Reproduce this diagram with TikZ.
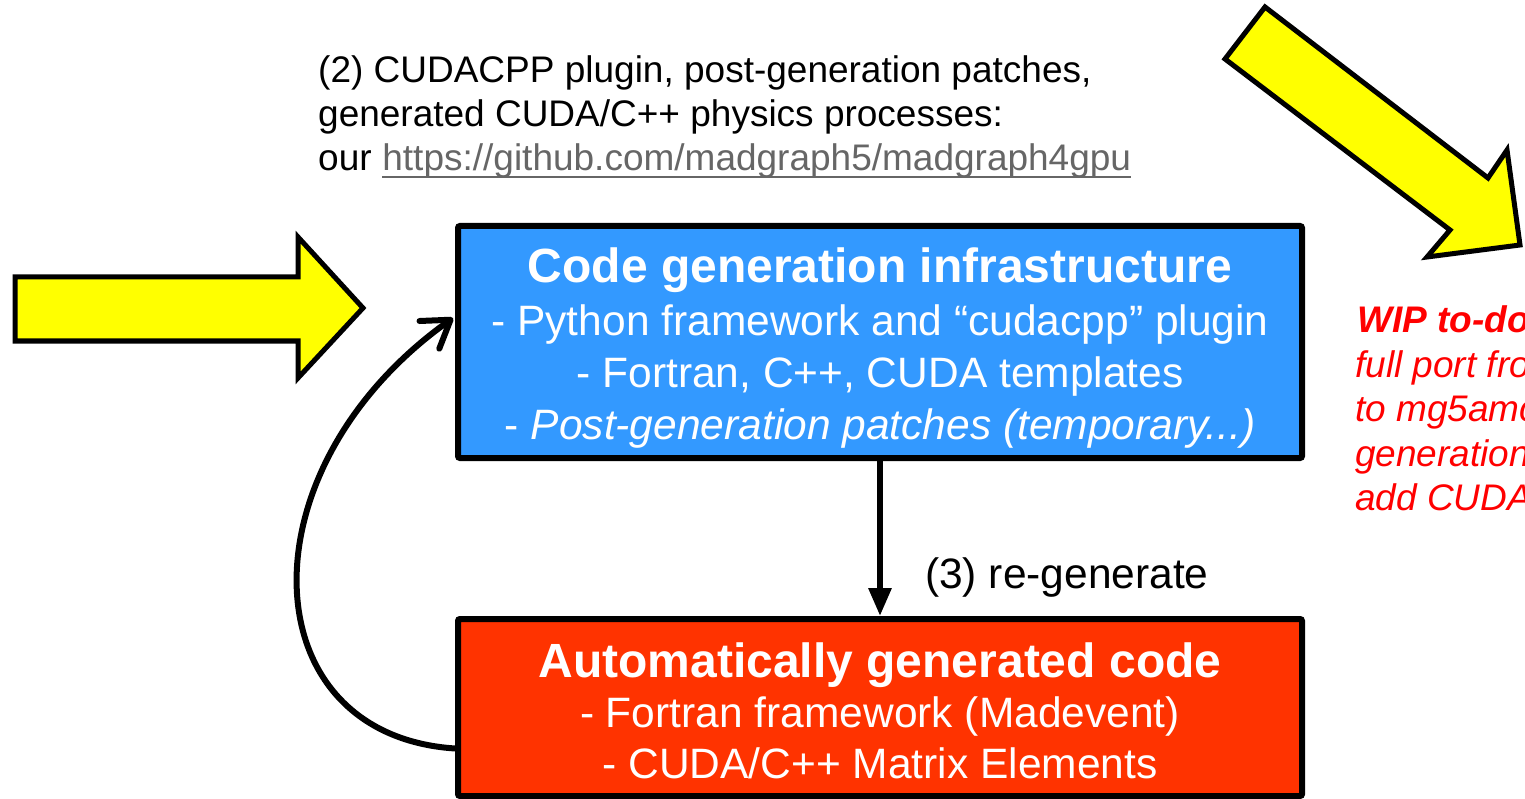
\documentclass[tikz,border=0pt]{standalone}
\usepackage{fontspec}
\setmainfont{Liberation Sans}
\usetikzlibrary{arrows.meta,calc}
\definecolor{boxblue}{RGB}{51,153,255}
\definecolor{boxred}{RGB}{255,51,0}
\definecolor{arrowyellow}{RGB}{255,255,0}
\definecolor{linkgrey}{RGB}{102,102,102}
\definecolor{wipred}{RGB}{255,0,0}
\begin{document}
\begin{tikzpicture}[x=1pt,y=-1pt,
  box/.style={draw=black,line width=6pt,rectangle,minimum width=844pt,inner sep=0pt,rounded corners=2pt},
  bodytxt/.style={text=white,font=\fontsize{42.5}{50}\selectfont,inner sep=0pt,anchor=base},
  titletxt/.style={text=white,font=\fontsize{48}{56}\selectfont\bfseries,inner sep=0pt,anchor=base},
  notetxt/.style={font=\fontsize{37}{44}\selectfont,inner sep=0pt,anchor=base west},
  wiptxt/.style={text=wipred,font=\fontsize{37}{44}\selectfont\itshape,inner sep=0pt,anchor=base west},
  wipbold/.style={text=wipred,font=\fontsize{37}{44}\selectfont\bfseries\itshape,inner sep=0pt,anchor=base west},
  fatarrow/.style={draw=black,fill=arrowyellow,line width=5pt,line join=miter},
  flow/.style={draw=black,line width=6pt}]
\useasboundingbox (0,0) rectangle (1525,799);
\clip (0,0) rectangle (1525,799);

% yellow block arrows
\path[fatarrow] (15,277) -- (298,277) -- (298,237) -- (363,308) -- (298,378) -- (298,341) -- (15,341) -- cycle;
\path[fatarrow] (1265,7) -- (1488,178) -- (1507,150) -- (1520,245) -- (1427,257) -- (1450,230) -- (1225,59) -- cycle;

% boxes
\node[box,fill=boxblue,minimum height=232pt] (blue) at (880,342) {};
\node[box,fill=boxred,minimum height=177pt] (red) at (880,707.5) {};

% blue box text
\node[titletxt] (bt) at (880,283) {Code generation infrastructure};
\node[bodytxt] (b1) at (880,335) {- Python framework and “cudacpp” plugin};
\node[bodytxt] (b2) at (880,387) {- Fortran, C++, CUDA templates};
\node[bodytxt] (b3) at (880,439) {- \textit{Post-generation patches (temporary...)}};

% red box text
\node[titletxt] (rt) at (880,677) {Automatically generated code};
\node[bodytxt] (r1) at (880,727) {- Fortran framework (Madevent)};
\node[bodytxt] (r2) at (880,778) {- CUDA/C++ Matrix Elements};

% connectors
\draw[flow,-{Triangle[length=28pt,width=22pt]}] (blue.south) -- (red.north);
\node[notetxt,font=\fontsize{42.5}{50}\selectfont] (regen) at (925,588) {(3) re-generate};
\draw[flow,line cap=round,-{Straight Barb[length=26pt,width=34pt,line cap=round,line join=round]}]
  ($(red.west)+(0,41)$) .. controls (250,735) and (240,470) .. ($(blue.west)+(-2,-24)$);

% top note
\node[notetxt] (n1) at (318,83) {(2) CUDACPP plugin, post-generation patches,};
\node[notetxt] (n2) at (318,127) {generated CUDA/C++ physics processes:};
\node[notetxt] (n3) at (318,171) {our};
\node[notetxt,text=linkgrey] (link) at ($(n3.base east)+(10.3,0)$) {https://github.com/madgraph5/madgraph4gpu};
\draw[linkgrey,line width=2pt] ($(link.base west)+(0,6)$) -- ($(link.base east)+(0,6)$);

% WIP note (cut off at right edge)
\node[wipbold] (w0) at (1357,333) {WIP to-do};
\node[wiptxt] (w1) at (1355,377) {full port fro};
\node[wiptxt] (w2) at (1355,421) {to mg5amc};
\node[wiptxt] (w3) at (1355,466) {generation};
\node[wiptxt] (w4) at (1355,510) {add CUDA};
\end{tikzpicture}
\end{document}
